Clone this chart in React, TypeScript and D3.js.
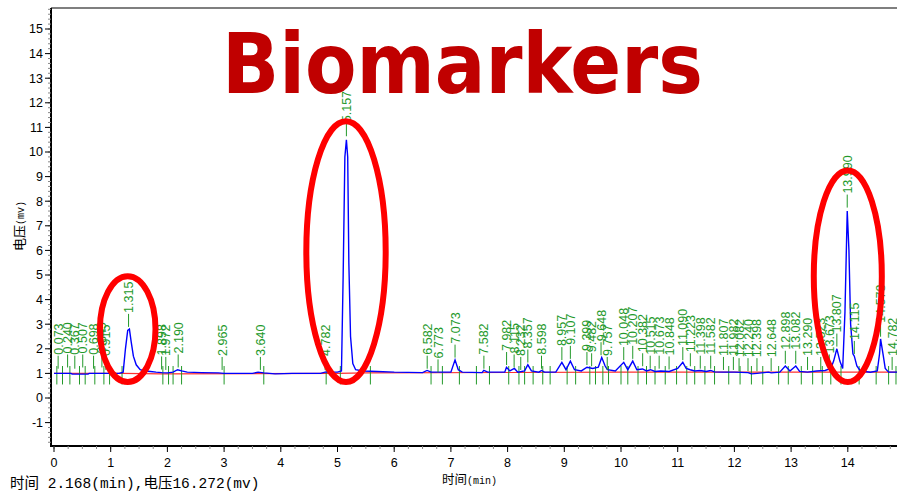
import React from "react";
import * as d3 from "d3";

// ---- Data ----
const traceTime = [0.0,0.3,0.32,0.6,0.62,1.15,1.22,1.26,1.3,1.33,1.36,1.4,1.45,1.52,1.6,1.7,1.8,1.9,2.0,2.1,2.18,2.25,2.35,2.6,2.9,3.0,3.5,3.6,3.7,3.9,4.2,4.7,4.78,5.0,5.07,5.1,5.13,5.157,5.18,5.2,5.23,5.27,5.32,5.45,5.7,6.0,6.5,6.58,6.65,6.77,7.0,7.073,7.13,7.2,7.55,7.58,7.65,7.95,7.98,8.04,8.12,8.18,8.3,8.357,8.42,8.55,8.6,8.65,8.85,8.957,9.03,9.107,9.18,9.3,9.4,9.5,9.6,9.66,9.72,9.76,9.9,10.048,10.12,10.207,10.28,10.38,10.45,10.52,10.6,10.7,10.85,11.0,11.09,11.15,11.22,11.3,11.4,11.5,11.58,11.65,11.8,12.0,12.24,12.3,12.4,12.6,12.65,12.8,12.898,12.98,13.082,13.15,13.29,13.45,13.6,13.7,13.75,13.807,13.86,13.91,13.95,13.99,14.02,14.05,14.09,14.115,14.16,14.22,14.4,14.52,14.56,14.578,14.62,14.66,14.72,14.87];
const traceValue = [1.0,1.0,0.97,0.97,1.0,1.0,1.05,2.0,2.75,2.8,2.3,1.7,1.35,1.15,1.1,1.08,1.05,1.03,1.02,1.05,1.15,1.1,1.05,1.03,1.02,1.0,1.0,1.05,1.02,0.98,1.0,1.0,1.05,1.05,1.1,5.0,9.8,10.5,9.8,5.5,2.5,1.4,1.15,1.1,1.08,1.05,1.03,1.12,1.05,1.05,1.05,1.55,1.15,1.05,1.03,1.12,1.05,1.05,1.25,1.1,1.2,1.05,1.1,1.35,1.1,1.05,1.12,1.05,1.05,1.45,1.15,1.5,1.15,1.1,1.25,1.2,1.25,1.65,1.3,1.15,1.1,1.45,1.15,1.5,1.15,1.18,1.1,1.15,1.08,1.1,1.08,1.2,1.45,1.2,1.15,1.1,1.12,1.08,1.12,1.06,1.05,1.05,1.03,0.98,1.0,1.05,1.02,1.05,1.3,1.1,1.3,1.08,1.05,1.1,1.12,1.2,1.5,2.0,1.5,1.2,3.5,7.6,6.0,3.0,1.8,1.7,1.3,1.1,1.05,1.1,1.8,2.4,1.8,1.2,1.05,1.05];

const baselineTime = [0, 1.2, 1.9, 5.0, 5.5, 10.0, 14.87];
const baselineValue = [1.0, 1.0, 0.98, 1.0, 1.02, 1.05, 1.05];

const peakLabels = ["0.073","0.240","0.367","0.507","0.698","0.845","0.915","1.315","1.898","1.972","2.190","2.965","3.640","4.782","5.157","6.582","6.773","7.073","7.582","7.982","8.115","8.232","8.357","8.598","8.957","9.107","9.399","9.482","9.648","9.757","10.048","10.207","10.382","10.515","10.673","10.848","11.090","11.223","11.398","11.582","11.807","11.982","12.082","12.240","12.398","12.648","12.898","13.082","13.290","13.523","13.673","13.807","13.990","14.115","14.578","14.782"];
const peakApex = [1.15,1.2,1.15,1.2,1.15,1.2,1.1,2.85,1.12,1.1,1.2,1.1,1.1,1.1,10.6,1.15,1.0,1.6,1.15,1.3,1.2,1.1,1.4,1.15,1.5,1.55,1.3,1.25,1.7,1.1,1.5,1.55,1.25,1.15,1.15,1.12,1.5,1.25,1.15,1.15,1.1,1.1,1.05,1.05,1.05,1.05,1.35,1.35,1.1,1.1,1.2,2.05,7.7,1.75,2.45,1.1];

const boundaryTimes = [0.05,0.15,0.28,0.45,0.55,0.72,0.88,0.98,1.2,1.92,2.02,2.1,2.25,3.0,3.7,4.8,5.05,5.58,6.65,6.85,7.15,7.45,7.68,8.02,8.2,8.3,8.45,8.62,8.75,9.05,9.2,9.45,9.55,9.68,9.78,10.0,10.12,10.3,10.45,10.6,10.78,10.98,11.16,11.3,11.48,11.65,11.9,12.1,12.3,12.5,12.78,12.95,13.18,13.38,13.55,13.7,13.88,14.2,14.5,14.72,14.85];

const xTicks = [0,1,2,3,4,5,6,7,8,9,10,11,12,13,14];
const yTicks = [-1,0,1,2,3,4,5,6,7,8,9,10,11,12,13,14,15];

const ellipseCx = [1.3, 5.15, 14.0];
const ellipseCy = [2.8, 5.95, 4.95];
const ellipseRx = [0.49, 0.7, 0.6];
const ellipseRy = [2.15, 5.3, 4.3];

export default function App() {
  const W = 897, H = 492;
  const left = 51, top = 8, bottom = 446;
  const x = d3.scaleLinear().domain([0, 15]).range([54, 54 + 15 * 56.7]);
  const y = d3.scaleLinear().domain([-2, 16]).range([447.2, 4.4]);

  const line = d3.line<number>().x((_, i) => x(traceTime[i])).y((d) => y(d));
  const baseLine = d3.line<number>().x((_, i) => x(baselineTime[i])).y((d) => y(d));

  const xMinor = d3.range(0, 14.9, 0.25);
  const yMinor = d3.range(-1.8, 15.9, 0.2);
  const green = "#23992a";
  const tickFont = "'Liberation Sans', Arial, sans-serif";

  return (
    <svg width={W} height={H} style={{ position: "absolute", left: 0, top: 0, background: "#fff" }}>
      <defs>
        <clipPath id="plot">
          <rect x={left} y={top} width={W - left} height={bottom - top} />
        </clipPath>
      </defs>
      <rect x={0} y={0} width={W} height={H} fill="#fff" />

      {/* frame */}
      <line x1={left} y1={top} x2={W} y2={top} stroke="#555" strokeWidth={1.5} />

      {/* red baseline */}
      <path d={baseLine(baselineValue) || ""} fill="none" stroke="#ff3030" strokeWidth={1.2} clipPath="url(#plot)" />

      {/* boundary ticks */}
      {boundaryTimes.map((t, i) => (
        <line key={"b" + i} x1={x(t)} x2={x(t)} y1={y(1.3)} y2={y(0.55)} stroke={green} strokeWidth={1} />
      ))}

      {/* trace */}
      <path d={line(traceValue) || ""} fill="none" stroke="#0000ff" strokeWidth={1.4} clipPath="url(#plot)" />

      {/* peak labels */}
      {peakLabels.map((lab, i) => {
        const t = parseFloat(lab);
        const px = x(t);
        const py = y(peakApex[i]);
        const top0 = py - 14;
        return (
          <g key={"p" + i}>
            <line x1={px} x2={px} y1={py - 1} y2={top0} stroke={green} strokeWidth={1} />
            <text
              transform={`translate(${px + 4.5},${top0 - 1}) rotate(-90)`}
              fontFamily={tickFont}
              fontSize={12.5}
              fill={green}
            >
              {lab}
            </text>
          </g>
        );
      })}

      {/* ellipses */}
      {ellipseCx.map((cx, i) => (
        <ellipse
          key={"e" + i}
          cx={x(cx)}
          cy={y(ellipseCy[i])}
          rx={x(ellipseRx[i]) - x(0)}
          ry={y(0) - y(ellipseRy[i])}
          fill="none"
          stroke="#ff0000"
          strokeWidth={6}
        />
      ))}

      {/* left axis */}
      <line x1={left} y1={top} x2={left} y2={bottom + 1} stroke="#000" strokeWidth={2} />
      {yMinor.map((v, i) => (
        <line key={"ym" + i} x1={left - 3} x2={left} y1={y(v)} y2={y(v)} stroke="#888" strokeWidth={1} />
      ))}
      {yTicks.map((v) => (
        <g key={"y" + v}>
          <line x1={left - 6} x2={left} y1={y(v)} y2={y(v)} stroke="#000" strokeWidth={1} />
          <text x={left - 8} y={y(v)} dy="0.35em" textAnchor="end" fontFamily={tickFont} fontSize={12.5} fill="#000">
            {v}
          </text>
        </g>
      ))}

      {/* bottom axis */}
      <line x1={left} y1={bottom} x2={W} y2={bottom} stroke="#000" strokeWidth={2} />
      {xMinor.map((v, i) => (
        <line key={"xm" + i} x1={x(v)} x2={x(v)} y1={bottom} y2={bottom + 3} stroke="#888" strokeWidth={1} />
      ))}
      {xTicks.map((v) => (
        <g key={"x" + v}>
          <line x1={x(v)} x2={x(v)} y1={bottom} y2={bottom + 6} stroke="#000" strokeWidth={1} />
          <text x={x(v)} y={467} textAnchor="middle" fontFamily={tickFont} fontSize={12.5} fill="#000">
            {v}
          </text>
        </g>
      ))}

      {/* axis titles */}
      <text x={442} y={484} fontFamily="'Noto Sans CJK SC', sans-serif" fontSize={12.5} fill="#000">
        时间<tspan fontFamily="'Liberation Mono', monospace" fontSize={10}>(min)</tspan>
      </text>
      <text transform="translate(24,251) rotate(-90)" fontFamily="'Noto Sans CJK SC', sans-serif" fontSize={13} fill="#000">
        电压<tspan fontFamily="'Liberation Mono', monospace" fontSize={10}>(mv)</tspan>
      </text>
      <text x={10} y={488} fontFamily="'Liberation Mono', 'Noto Sans CJK SC', monospace" fontSize={14.5} fill="#000">
        <tspan fontFamily="'Noto Sans CJK SC', sans-serif">时间</tspan> 2.168(min),<tspan fontFamily="'Noto Sans CJK SC', sans-serif">电压</tspan>16.272(mv)
      </text>

      {/* title */}
      <text
        x={222}
        y={93}
        fontFamily="'DejaVu Sans', Verdana, sans-serif"
        fontWeight="bold"
        fontSize={84}
        fill="#c00000"
        textLength={481}
        lengthAdjust="spacingAndGlyphs"
      >
        Biomarkers
      </text>
    </svg>
  );
}
